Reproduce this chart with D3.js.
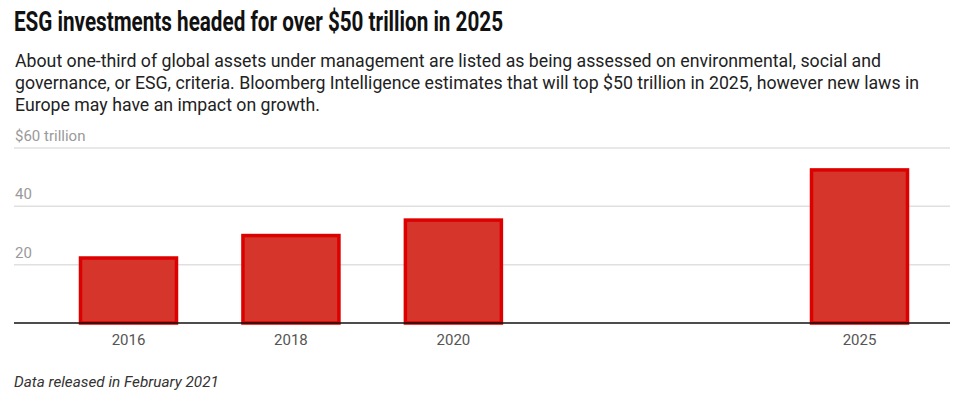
<!DOCTYPE html>
<html>
<head>
<meta charset="utf-8">
<script src="https://cdn.jsdelivr.net/npm/d3@7"></script>
<style>
  body { margin: 0; background: #fff; }
  svg { display: block; font-family: Roboto, "Noto Sans", sans-serif; }
</style>
</head>
<body>
<div id="chart"></div>
<script>
var years = [2016, 2018, 2020, 2025]
var values = [22.8, 30.5, 35.8, 53.0]
var yTicks = [20, 40, 60]
var title = 'ESG investments headed for over $50 trillion in 2025'
var subtitle = [
  'About one-third of global assets under management are listed as being assessed on environmental, social and',
  'governance, or ESG, criteria. Bloomberg Intelligence estimates that will top $50 trillion in 2025, however new laws in',
  'Europe may have an impact on growth.'
]
var note = 'Data released in February 2021'

var W = 975, H = 394
var plotL = 14, plotR = 950, plotT = 148, plotB = 323

var svg = d3.select('#chart').append('svg')
  .attr('width', W)
  .attr('height', H)

// title + subtitle
svg.append('text')
  .attr('x', 14)
  .attr('y', 31)
  .attr('font-size', 28)
  .attr('font-weight', 700)
  .attr('fill', '#111')
  .attr('textLength', 489)
  .attr('lengthAdjust', 'spacingAndGlyphs')
  .text(title)

var subLen = [866, 904, 305]
subtitle.forEach(function(s, i) {
  svg.append('text')
    .attr('x', 15)
    .attr('y', 67 + i * 22)
    .attr('font-size', 17.5)
    .attr('fill', '#222')
    .attr('textLength', subLen[i])
    .attr('lengthAdjust', 'spacingAndGlyphs')
    .text(s)
})

var y = d3.scaleLinear().domain([0, 60]).range([plotB, plotT])
// linear time axis: 2016 -> 128.5, 2025 -> 859.5
var x = d3.scaleLinear().domain([2016, 2025]).range([128.5, 859.5])
var bw = 99

// gridlines
svg.selectAll('.grid')
  .data(yTicks)
  .enter()
  .append('line')
  .attr('x1', plotL)
  .attr('x2', plotR)
  .attr('y1', function(d) { return y(d) })
  .attr('y2', function(d) { return y(d) })
  .attr('stroke', '#e0e0e0')
  .attr('stroke-width', 1.5)

svg.selectAll('.ylab')
  .data(yTicks)
  .enter()
  .append('text')
  .attr('x', 15)
  .attr('y', function(d) { return y(d) - 7 })
  .attr('font-size', 15)
  .attr('fill', '#9a9a9a')
  .text(function(d) { return d === 60 ? '$60 trillion' : d })

// bars
svg.selectAll('.bar')
  .data(values)
  .enter()
  .append('rect')
  .attr('x', function(d, i) { return x(years[i]) - bw / 2 + 1.5 })
  .attr('y', function(d) { return y(d) + 1.5 })
  .attr('width', bw - 3)
  .attr('height', function(d) { return y(0) - y(d) - 1.5 })
  .attr('fill', '#d5352a')
  .attr('stroke', '#dd0000')
  .attr('stroke-width', 3.5)

// baseline
svg.append('line')
  .attr('x1', plotL)
  .attr('x2', plotR)
  .attr('y1', y(0))
  .attr('y2', y(0))
  .attr('stroke', '#111')
  .attr('stroke-width', 1.5)

svg.selectAll('.xlab')
  .data(years)
  .enter()
  .append('text')
  .attr('x', function(d) { return x(d) })
  .attr('y', 345)
  .attr('text-anchor', 'middle')
  .attr('font-size', 15)
  .attr('fill', '#555')
  .text(function(d) { return d })

svg.append('text')
  .attr('x', 14)
  .attr('y', 387)
  .attr('font-size', 15.3)
  .attr('font-style', 'italic')
  .attr('fill', '#333')
  .text(note)
</script>
</body>
</html>
